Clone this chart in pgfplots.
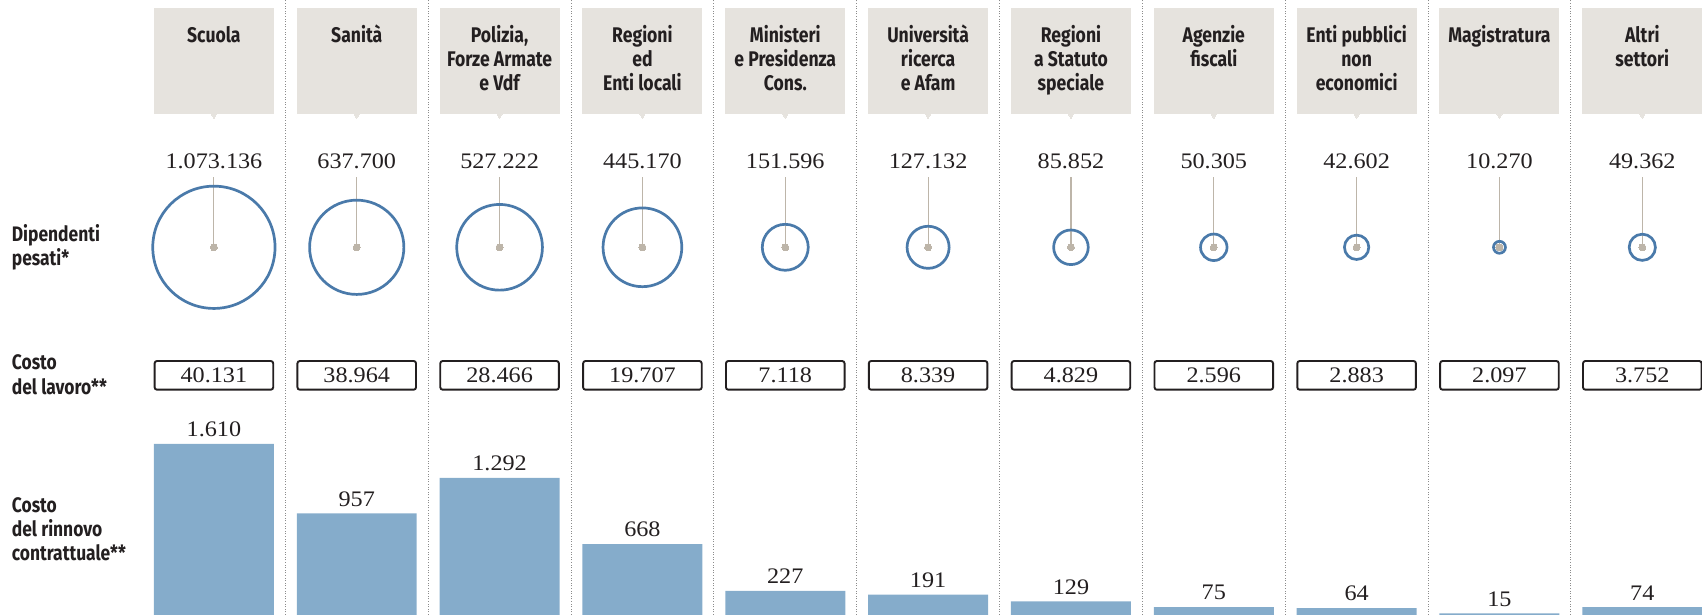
\documentclass[border=0pt]{standalone}
\usepackage{pgfplots}
\pgfplotsset{compat=1.18}
\usepackage{pgfplotstable}
\usepackage{fontspec}
\setmainfont{Liberation Serif}[FakeStretch=1.09]
\newfontfamily\hdfont{Fira Sans}[FakeStretch=0.83]
\definecolor{hdr}{HTML}{E6E3DE}
\definecolor{cblue}{HTML}{4A7AAA}
\definecolor{barc}{HTML}{85ACCB}
\definecolor{stemc}{HTML}{BDB5A9}
\definecolor{sepc}{HTML}{8C8C8C}
\definecolor{txt}{HTML}{231F20}
\newcommand\valfont{\fontsize{11.1}{12}\selectfont}
\newcommand\rowfont{\hdfont\bfseries\fontsize{10.5}{12.2}\selectfont}
\newcommand\hd[1]{\parbox[t][52.85pt][t]{60pt}{\centering\hdfont\bfseries\fontsize{10.6}{12}\selectfont\color{txt}\rule{0pt}{17.25pt}#1\par}}
\pgfkeys{/pgf/number format/.cd, fixed, precision=0, 1000 sep={.}, assume math mode=true}

\pgfplotstableread{
x dip lav ren
0 1073136 40131 1610
1 637700 38964 957
2 527222 28466 1292
3 445170 19707 668
4 151596 7118 227
5 127132 8339 191
6 85852 4829 129
7 50305 2596 75
8 42602 2883 64
9 10270 2097 15
10 49362 3752 74
}\data

\begin{document}
\begin{tikzpicture}
% bars
\begin{axis}[at={(0,0)}, anchor=south west, scale only axis,
  width=851pt, height=307.5pt,
  xmin=-1.4975, xmax=10.418, ymin=0, ymax=5790,
  hide axis, ybar, bar width=0.84]
\addplot[fill=barc, draw=none, point meta=explicit symbolic,
  nodes near coords={\pgfmathprintnumber{\pgfplotspointmeta}},
  every node near coord/.append style={font=\valfont, text=txt}]
  table[x=x, y=ren, meta=ren]{\data};
\end{axis}
% layout
\begin{axis}[name=lay, at={(0,0)}, anchor=south west, scale only axis,
  width=851pt, height=307.5pt,
  xmin=-1.4975, xmax=10.418, ymin=0, ymax=615,
  axis line style={draw=none},
  major tick length=0pt, minor tick length=0pt,
  ytick=\empty,
  xtick={0,...,10},
  xticklabels={{\hd{Scuola}},{\hd{Sanità}},{\hd{Polizia,\\Forze Armate\\e Vdf}},{\hd{Regioni\\ed\\Enti locali}},{\hd{Ministeri\\e Presidenza\\Cons.}},{\hd{Università\\ricerca\\e Afam}},{\hd{Regioni\\a Statuto\\speciale}},{\hd{Agenzie\\fiscali}},{\hd{Enti pubblici\\non\\economici}},{\hd{Magistratura}},{\hd{Altri\\settori}}},
  xticklabel pos=upper,
  xticklabel style={anchor=north, yshift=-4pt, fill=hdr, inner sep=0pt},
  minor xtick={0.5,1.5,...,9.5},
  xminorgrids,
  minor grid style={draw=sepc, line width=0.5pt, dash pattern=on 0.5pt off 0.8pt},
  clip=false]
% header pointers
\addplot[only marks, color=hdr, mark=triangle*, mark size=2pt, mark options={rotate=180, fill=hdr, draw=hdr, line width=0pt}]
  table[x=x, y expr=500.6]{\data};
% values
\addplot[draw=none, mark=none, point meta=explicit symbolic,
  nodes near coords={\pgfmathprintnumber{\pgfplotspointmeta}},
  every node near coord/.append style={anchor=center, font=\valfont, text=txt, inner sep=0pt}]
  table[x=x, y expr=453.3, meta=dip]{\data};
% stems
\addplot[draw=none, mark=none, error bars/.cd, y dir=plus, y fixed=70.6, error mark=none,
  error bar style={draw=stemc, line width=0.55pt}]
  table[x=x, y expr=367.7]{\data};
% circles
\addplot[scatter, only marks, mark=o, point meta=\thisrow{x},
  scatter/use mapped color={draw=cblue},
  mark options={line width=1.35pt},
  visualization depends on={sqrt(\thisrow{dip}/1000)*0.9332 \as \rad},
  scatter/@pre marker code/.append style={/tikz/mark size=\rad}]
  table[x=x, y expr=367.7]{\data};
% dots
\addplot[only marks, color=stemc, mark=*, mark size=1.75pt, mark options={fill=stemc, draw=stemc, line width=0pt}]
  table[x=x, y expr=367.7]{\data};
% lavoro boxes
\addplot[draw=none, mark=none, point meta=explicit symbolic,
  nodes near coords={\pgfmathprintnumber{\pgfplotspointmeta}},
  every node near coord/.append style={anchor=center, font=\valfont, text=txt, draw=txt,
    line width=0.95pt, rounded corners=1.2pt, minimum width=59.3pt, minimum height=14.35pt, inner sep=0pt}]
  table[x=x, y expr=239.65, meta=lav]{\data};
% row labels
\node[anchor=west, align=left, inner sep=0pt, font=\rowfont, text=txt] at (axis cs:-1.417,367.8) {Dipendenti\\pesati*};
\node[anchor=west, align=left, inner sep=0pt, font=\rowfont, text=txt] at (axis cs:-1.417,240.3) {Costo\\del lavoro**};
\node[anchor=west, align=left, inner sep=0pt, font=\rowfont, text=txt] at (axis cs:-1.417,85.8) {Costo\\del rinnovo\\contrattuale**};
\end{axis}
\pgfresetboundingbox
\path[use as bounding box] (lay.south west) rectangle (lay.north east);
\end{tikzpicture}
\end{document}
